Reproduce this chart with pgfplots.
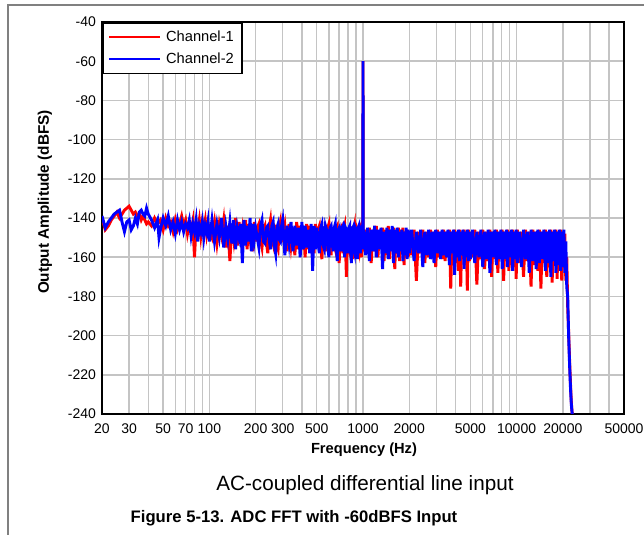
\documentclass[border=0pt]{standalone}
\usepackage{fontspec}
\setmainfont{Liberation Sans}
\usepackage{pgfplots}
\usepackage{pgfplotstable}
\pgfplotsset{compat=1.18}
\definecolor{gridgray}{RGB}{196,196,196}
\definecolor{framegray}{RGB}{128,128,128}

\pgfplotstableread{
f c1 c2
20 -140 -139
21 -146 -145
22 -144 -142
23 -141 -140
24 -139 -138
25 -137 -137
26 -140 -136
27 -138 -142
28 -136 -147
29 -135 -142
30 -134 -141
31 -136 -146
32 -138 -144
33 -137 -140
34 -139 -143
35 -138 -137
36 -141 -136
37 -139 -138
38 -141 -139
39 -143 -135
40 -142 -138
42 -144 -141
44 -140 -145
46 -143 -141
47 -142 -150
48 -141 -146
50 -146 -140
52 -140 -144
54 -144 -139
56 -142 -146
58 -147 -142
60 -141 -148
62 -146 -141
64 -143 -146
66 -139 -142
68 -144 -147
70 -141 -143
72 -148 -145
74 -143 -141
76 -147 -149
78 -142 -143
80 -160 -147
82 -143 -141
84 -146 -152
86 -141 -144
88 -149 -147
90 -142 -142
92 -145 -150
94 -141 -144
96 -148 -147
98 -143 -142
100 -146 -152
104 -150 -141
108 -142 -152
112 -153 -143
116 -143 -150
120 -149 -140
124 -141 -155
128 -155 -144
132 -144 -151
136 -162 -142
140 -143 -153
144 -151 -141
148 -140 -156
152 -154 -145
156 -142 -150
160 -150 -143
164 -145 -163
168 -153 -141
172 -141 -154
176 -156 -144
180 -143 -152
184 -150 -140
188 -144 -157
192 -157 -143
196 -142 -151
200 -152 -145
205 -145 -150
210 -143 -155
215 -151 -144
220 -155 -141
225 -146 -152
230 -144 -153
235 -152 -145
240 -158 -144
245 -145 -151
250 -141 -156
255 -150 -144
260 -153 -142
265 -144 -154
270 -145 -158
275 -154 -145
280 -156 -143
285 -145 -151
290 -142 -152
295 -150 -144
300 -151 -141
310 -144 -159
320 -157 -144
330 -143 -153
340 -154 -142
350 -145 -157
360 -159 -144
370 -142 -154
380 -156 -145
390 -144 -160
400 -152 -142
410 -146 -156
420 -160 -144
430 -143 -155
440 -156 -146
450 -144 -158
460 -153 -143
470 -145 -167
480 -158 -144
490 -143 -156
500 -155 -145
510 -146 -153
520 -144 -158
530 -154 -145
540 -161 -143
550 -145 -154
560 -145 -156
570 -153 -144
580 -157 -146
590 -145 -155
600 -143 -160
610 -155 -145
620 -159 -144
630 -146 -153
640 -146 -157
650 -154 -145
660 -156 -143
670 -145 -155
680 -144 -162
690 -155 -146
700 -163 -145
710 -146 -154
720 -145 -157
730 -154 -145
740 -158 -144
750 -146 -155
760 -144 -160
770 -155 -145
780 -170 -146
790 -146 -154
800 -146 -158
810 -155 -145
820 -157 -144
830 -145 -155
840 -145 -163
850 -154 -146
860 -161 -145
870 -146 -155
880 -144 -157
890 -155 -145
900 -159 -146
910 -145 -154
920 -146 -161
930 -154 -145
940 -156 -144
950 -146 -155
960 -145 -158
970 -155 -146
980 -160 -145
990 -146 -156
998 -150 -148
1000 -60 -60
1002 -149 -150
1010 -157 -146
1040 -146 -159
1070 -158 -145
1100 -145 -162
1130 -163 -146
1160 -146 -157
1190 -157 -144
1220 -144 -160
1250 -160 -146
1280 -147 -156
1310 -155 -145
1340 -145 -166
1370 -162 -147
1400 -146 -158
1430 -159 -145
1460 -144 -161
1490 -161 -146
1520 -146 -157
1550 -156 -144
1580 -145 -163
1610 -166 -146
1640 -147 -158
1670 -158 -145
1700 -145 -160
1730 -162 -147
1760 -146 -157
1790 -157 -146
1820 -145 -162
1850 -164 -147
1880 -147 -159
1910 -158 -145
1940 -146 -161
1970 -160 -146
2000 -147 -158
2075 -159 -146
2150 -146 -162
2225 -172 -147
2300 -147 -158
2375 -158 -146
2450 -146 -165
2525 -163 -147
2600 -147 -159
2675 -160 -146
2750 -146 -161
2825 -158 -147
2900 -147 -163
2975 -165 -146
3050 -146 -158
3125 -160 -147
3200 -147 -161
3275 -161 -146
3350 -146 -159
3425 -162 -147
3500 -147 -160
3575 -159 -146
3650 -146 -164
3725 -176 -147
3800 -147 -158
3875 -160 -146
3950 -146 -169
4025 -163 -147
4100 -147 -160
4175 -167 -146
4250 -146 -162
4325 -175 -147
4400 -147 -159
4475 -161 -146
4550 -146 -166
4625 -164 -147
4700 -147 -160
4775 -177 -146
4850 -146 -162
4925 -162 -147
5000 -147 -161
5170 -160 -146
5340 -146 -163
5510 -174 -147
5680 -147 -160
5850 -161 -146
6020 -146 -165
6190 -166 -147
6360 -147 -161
6530 -162 -146
6700 -146 -168
6870 -170 -147
7040 -147 -160
7210 -161 -146
7380 -146 -164
7550 -168 -147
7720 -147 -161
7890 -160 -146
8060 -146 -166
8230 -172 -147
8400 -147 -161
8570 -162 -146
8740 -146 -165
8910 -167 -147
9080 -147 -160
9250 -164 -146
9420 -146 -167
9590 -165 -147
9760 -147 -161
9930 -171 -146
10100 -146 -163
10430 -163 -147
10760 -147 -165
11090 -170 -146
11420 -146 -161
11750 -162 -147
12080 -147 -168
12410 -175 -146
12740 -146 -162
13070 -164 -147
13400 -147 -166
13730 -167 -146
14060 -146 -163
14390 -176 -147
14720 -147 -161
15050 -163 -146
15380 -146 -167
15710 -170 -147
16040 -147 -163
16370 -165 -146
16700 -146 -170
17030 -173 -147
17360 -147 -162
17690 -164 -146
18020 -146 -168
18350 -171 -147
18680 -147 -164
19010 -166 -146
19340 -146 -167
19670 -172 -147
20000 -147 -165
20300 -165 -146
20600 -148 -168
20900 -172 -152
21200 -160 -175
21500 -185 -180
21800 -198 -200
22100 -212 -214
22400 -224 -226
22700 -234 -235
23000 -240 -240
}\fftdata

\begin{document}
\begin{tikzpicture}
\begin{axis}[
  name=ax, at={(0,0)}, anchor=south west,
  scale only axis, width=391.5pt, height=294pt,
  xmode=log, xmin=20, xmax=50000, ymin=-240, ymax=-40,
  xtick={20,30,50,70,100,200,300,500,1000,2000,5000,10000,20000,50000},
  xticklabels={20,30,50,70,100,200,300,500,1000,2000,5000,10000,20000,50000},
  minor xtick={40,60,80,90,400,600,700,800,900,3000,4000,6000,7000,8000,9000,30000,40000},
  ytick={-240,-220,-200,-180,-160,-140,-120,-100,-80,-60,-40},
  yticklabels={-240,-220,-200,-180,-160,-140,-120,-100,-80,-60,-40},
  grid=both,
  major grid style={gridgray, line width=1.1pt},
  minor grid style={gridgray, line width=1.1pt},
  major tick length=0pt, minor tick length=0pt,
  axis line style={line width=1.8pt},
  ticklabel style={font=\fontsize{10.5}{12}\selectfont},
  xticklabel style={yshift=-4pt},
  yticklabel style={xshift=-1pt},
  legend style={at={(0,1)}, anchor=north west, draw=black, line width=1.2pt,
    font=\fontsize{11}{13}\selectfont, inner xsep=4pt, inner ysep=4pt,
    row sep=3pt, cells={anchor=west},
    /tikz/every odd column/.append style={column sep=2pt}},
  legend image code/.code={\draw[#1, line width=1.5pt] (0pt,0pt) -- (38pt,0pt);},
]
\addplot[red, line width=2.2pt] table[x=f, y=c1]{\fftdata};
\addlegendentry{Channel-1}
\addplot[blue, line width=2.2pt] table[x=f, y=c2]{\fftdata};
\addlegendentry{Channel-2}
\end{axis}
\pgfresetboundingbox
\useasboundingbox (-76.5pt,-90.75pt) rectangle (406.5pt,310.5pt);
\draw[framegray, line width=1.1pt] (-70.5pt,-95pt) -- (-70.5pt,306.75pt) -- (410pt,306.75pt);
\node[font=\bfseries\fontsize{11}{13}\selectfont] at (196.5pt,-27pt) {Frequency (Hz)};
\node[font=\bfseries\fontsize{11.5}{13}\selectfont, rotate=90] at (-42.75pt,159pt) {Output Amplitude (dBFS)};
\node[font=\fontsize{15.5}{18}\selectfont] at (197.25pt,-53.25pt) {AC-coupled differential line input};
\node[font=\bfseries\fontsize{12.5}{15}\selectfont] at (144pt,-78pt) {Figure 5-13. ADC FFT with -60dBFS Input};
\end{tikzpicture}
\end{document}
